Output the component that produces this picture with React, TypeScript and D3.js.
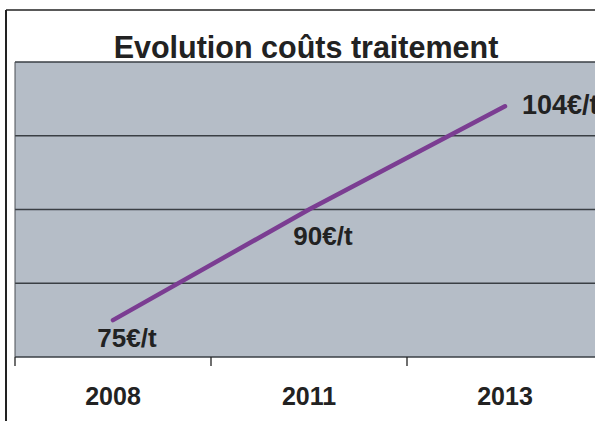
import React from 'react'
import * as d3 from 'd3'

const years = ['2008', '2011', '2013']
const costs = [75, 90, 104]
const costLabels = ['75€/t', '90€/t', '104€/t']
const yTicks = [70, 80, 90, 100, 110]
const title = 'Evolution coûts traitement'

const W = 595
const H = 421
const font = 'Liberation Sans, Arial, sans-serif'
const ink = '#222'

export default function App() {
    const plot = { left: 15, right: 603, top: 62, bottom: 357 }

    const x = d3.scaleBand().domain(years).range([plot.left, plot.right]).padding(0)
    const y = d3.scaleLinear().domain([70, 110]).range([plot.bottom, plot.top])
    const cx = (d: string) => (x(d) ?? 0) + x.bandwidth() / 2

    const line = d3.line<number>()
        .x((_, i) => cx(years[i]))
        .y(d => y(d))

    // label placement relative to each point
    const labelPos = (i: number) => {
        if (i === years.length - 1) return { dx: 17, dy: 8, anchor: 'start', size: 27 }
        return { dx: 14, dy: i === 0 ? 27 : 35, anchor: 'middle', size: 26 }
    }

    const edges = [...years.map(d => x(d) ?? 0), plot.right]

    return (
        <div style={{ position: 'fixed', left: 0, top: 0 }}>
            <svg width={W} height={H} style={{ display: 'block', background: '#fff' }}>
                {/* outer frame */}
                <line x1={6} x2={W} y1={10} y2={10} stroke={ink} strokeWidth={1.5} />
                <line x1={6} x2={6} y1={10} y2={H} stroke={ink} strokeWidth={2} />

                <text x={306} y={58} textAnchor="middle" fontFamily={font} fontWeight="bold"
                    fontSize={30.5} fill={ink}>{title}</text>

                {/* plot area */}
                <rect x={plot.left} y={plot.top} width={plot.right - plot.left}
                    height={plot.bottom - plot.top} fill="#b5bdc7" />
                {yTicks.map(t => (
                    <line key={t} x1={plot.left} x2={plot.right} y1={y(t)} y2={y(t)}
                        stroke="#3a3f44" strokeWidth={1.3} />
                ))}
                <line x1={plot.left} x2={plot.left} y1={plot.top} y2={plot.bottom}
                    stroke="#4a4f55" strokeWidth={1} />

                {/* category ticks */}
                {edges.map((e, i) => (
                    <line key={i} x1={e} x2={e} y1={plot.bottom} y2={plot.bottom + 9}
                        stroke={ink} strokeWidth={1.3} />
                ))}
                {years.map(d => (
                    <text key={d} x={cx(d)} y={405} textAnchor="middle" fontFamily={font}
                        fontWeight="bold" fontSize={25} fill={ink}>{d}</text>
                ))}

                <path d={line(costs) ?? ''} fill="none" stroke="#7b3d92" strokeWidth={4.5}
                    strokeLinecap="round" />

                {costs.map((v, i) => {
                    const p = labelPos(i)
                    return (
                        <text key={i} x={cx(years[i]) + p.dx} y={y(v) + p.dy}
                            textAnchor={p.anchor} fontFamily={font} fontWeight="bold"
                            fontSize={p.size} fill={ink}>{costLabels[i]}</text>
                    )
                })}
            </svg>
        </div>
    )
}
